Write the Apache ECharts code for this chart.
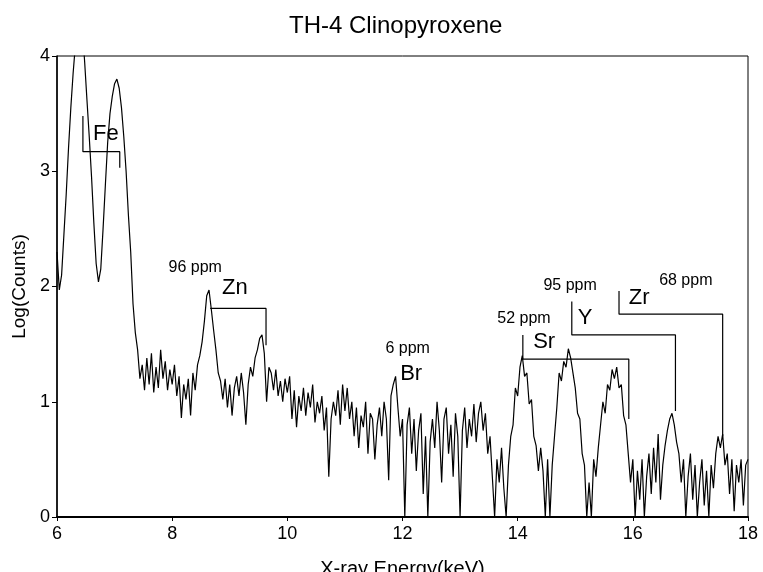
<!DOCTYPE html>
<html>
<head>
<meta charset="utf-8">
<title>TH-4 Clinopyroxene</title>
<script src="https://cdn.jsdelivr.net/npm/echarts@6/dist/echarts.min.js"></script>
<style>
  html, body { margin: 0; padding: 0; background: #fff; }
  #chart { width: 763px; height: 572px; }
</style>
</head>
<body>
<div id="chart"></div>
<script>
// spectrum channels: first energy and channel width (keV)
const E0 = 6.0
const dE = 0.04

// Log(Counts), channel by channel
const feRegion = [2.30,1.97,2.10,2.45,2.80,3.20,3.55,3.85,4.10,4.35,4.45,4.25,3.95,3.62,3.30,2.95,2.55,2.20,2.04,2.15,2.50,2.88,3.25,3.50,3.65,3.76,3.80,3.72,3.55,3.30,3.00,2.62,2.30,1.85,1.60,1.45,1.20]
const plateau = [1.32,1.10,1.38,1.15,1.42,1.08,1.30,1.12,1.45,1.20,1.35,1.10,1.28,1.15,1.32,1.05,1.22,0.86,1.15,1.02,1.20,0.88,1.25,1.10,1.32]
const znKa = [1.40,1.52,1.70,1.92,1.97,1.80,1.62,1.45,1.25]
const znGap = [1.18,1.02,1.20,0.95,1.15,0.88,1.12,1.22,1.05,1.25,1.08,0.80,1.15,1.30,1.22]
const znKb = [1.38,1.45,1.55,1.58,1.42,1.00,1.30]
const midRange = [1.25,1.10,1.28,1.05,1.18,1.00,1.20,1.08,1.22,0.85,1.10,0.78,1.05,0.92,1.12,0.88,1.08,0.95,1.15,0.82,1.00,0.90,1.05,0.75,0.95,0.35,0.85,1.00,0.88,1.10,0.80,1.15,0.92,1.12,0.85,1.00,0.70,0.95,0.60,0.88,0.78,1.00,0.55,0.90]
const brRegion = [0.85,0.50,0.80,0.95,0.70,1.00,0.85,0.32,1.05,1.15,1.22,0.95,0.70,0.85,0.00,0.80,0.95,0.55,0.85,0.40,0.75,0.90,0.20,0.70,0.00,0.65,0.85,0.60,1.00,0.75,0.30,0.85,0.95,0.55,0.80,0.35,0.90,0.70,0.00,0.75,0.95,0.60,0.85,0.70,0.98,0.65,0.90,1.00,0.75,0.90,0.55,0.70,0.35,0.00,0.50,0.30,0.60,0.25,0.00,0.45,0.70]
const srYZr = [0.80,1.12,1.05,1.30,1.40,1.22,1.25,0.98,1.02,0.70,0.62,0.40,0.60,0.40,0.00,0.50,0.00,0.45,0.70,0.95,1.25,1.18,1.35,1.30,1.46,1.38,1.25,1.12,0.90,0.85,0.55,0.45,0.00,0.30,0.00,0.50,0.35,0.60,0.80,1.00,0.90,1.15,1.10,1.28,1.20,1.30,1.12,1.15,0.88,0.80,0.55,0.30,0.50,0.00,0.40,0.15,0.50,0.00,0.35,0.55,0.20,0.60,0.30,0.72,0.15,0.45,0.62,0.75,0.85,0.90,0.80,0.65,0.55,0.30,0.50,0.00,0.35,0.55,0.15,0.45,0.00,0.30,0.50,0.10,0.40,0.00,0.45,0.25,0.55,0.70,0.60,0.72,0.45,0.55,0.20,0.50,0.05,0.45,0.30,0.50,0.10,0.45,0.50]

const logCounts = [].concat(feRegion, plateau, znKa, znGap, znKb, midRange, brRegion, srYZr)

// line markers [keV, log]
const feBracket = [[6.45, 3.48], [6.45, 3.17], [7.09, 3.17], [7.09, 3.03]]
const znBracket = [[8.66, 1.81], [9.63, 1.81], [9.63, 1.49]]
const srBracket = [[14.09, 1.58], [14.09, 1.37], [15.93, 1.37], [15.93, 0.85]]
const yBracket = [[14.94, 1.87], [14.94, 1.58], [16.74, 1.58], [16.74, 0.92]]
const zrBracket = [[15.76, 1.96], [15.76, 1.76], [17.56, 1.76], [17.56, 0.70]]

// element names and concentrations
const elements = ['Fe', 'Zn', 'Br', 'Sr', 'Y', 'Zr']
const elementAt = [[6.85, 3.32], [9.09, 1.99], [12.15, 1.24], [14.46, 1.52], [15.17, 1.73], [16.11, 1.90]]
const ppm = ['96 ppm', '6 ppm', '52 ppm', '95 ppm', '68 ppm']
const ppmAt = [[8.40, 2.16], [12.09, 1.46], [14.11, 1.72], [14.91, 2.01], [16.92, 2.05]]

const xTicks = [6, 8, 10, 12, 14, 16, 18]
const yTicks = [0, 1, 2, 3, 4]

const font = '"Liberation Sans", Arial, Helvetica, sans-serif'

const spectrum = logCounts.map((v, i) => [+(E0 + i * dE).toFixed(2), v])

function bracket(data) {
  return {
    type: 'line', data, showSymbol: false, silent: true, clip: false,
    lineStyle: { color: '#000', width: 1.2 }
  }
}

function textSeries(names, at, size) {
  return {
    type: 'scatter', symbolSize: 0, silent: true,
    itemStyle: { opacity: 1 },
    data: names.map((n, i) => ({ value: at[i], name: n })),
    label: {
      show: true, position: 'inside', formatter: '{b}', opacity: 1,
      color: '#000', fontSize: size, fontFamily: font
    }
  }
}

let myChart = echarts.init(document.getElementById('chart'))

myChart.setOption({
  animation: false,
  title: {
    text: 'TH-4 Clinopyroxene',
    left: 284, top: 9,
    textStyle: { fontFamily: font, fontWeight: 'normal', fontSize: 24, color: '#000' }
  },
  grid: {
    left: 57, right: 15, top: 56, bottom: 55,
    outerBoundsMode: 'none', containLabel: false,
    show: true, borderColor: '#000', borderWidth: 1
  },
  xAxis: {
    type: 'value', min: 6, max: 18, interval: 2,
    name: 'X-ray Energy(keV)', nameLocation: 'middle', nameGap: 42,
    nameTextStyle: { fontFamily: font, fontSize: 20, color: '#000' },
    axisLine: { lineStyle: { color: '#000', width: 2 } },
    axisTick: { length: 4, lineStyle: { color: '#000' } },
    axisLabel: {
      margin: 8, fontFamily: font, fontSize: 18, color: '#000',
      formatter: v => xTicks.includes(v) ? String(v) : ''
    },
    splitLine: { show: false }
  },
  yAxis: {
    type: 'value', min: 0, max: 4, interval: 1,
    name: 'Log(Counts)', nameLocation: 'middle', nameGap: 27,
    nameTextStyle: { fontFamily: font, fontSize: 19, color: '#000' },
    axisLine: { show: true, lineStyle: { color: '#000', width: 1.5 } },
    axisTick: { show: true, length: 5, lineStyle: { color: '#000' } },
    axisLabel: {
      margin: 7, fontFamily: font, fontSize: 18, color: '#000',
      formatter: v => yTicks.includes(v) ? String(v) : ''
    },
    splitLine: { show: false }
  },
  series: [
    {
      type: 'line', data: spectrum, showSymbol: false, clip: true,
      lineStyle: { color: '#000', width: 1.2 }
    },
    bracket(feBracket),
    bracket(znBracket),
    bracket(srBracket),
    bracket(yBracket),
    bracket(zrBracket),
    textSeries(elements, elementAt, 22),
    textSeries(ppm, ppmAt, 16)
  ]
})
</script>
</body>
</html>
